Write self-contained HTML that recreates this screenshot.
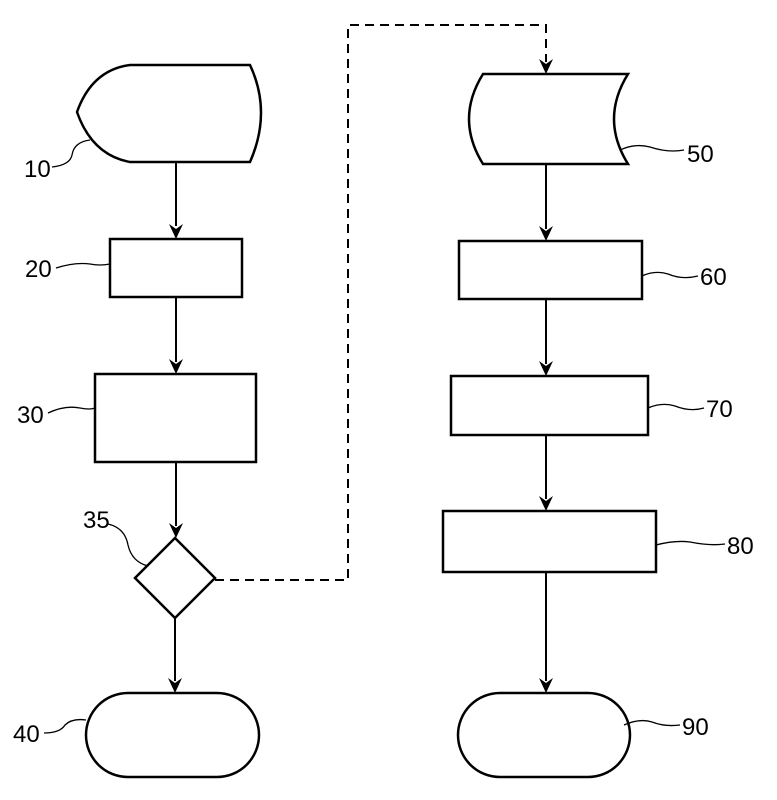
<!DOCTYPE html>
<html><head><meta charset="utf-8"><style>html,body{margin:0;padding:0;background:#fff}svg{display:block}</style></head><body>
<svg width="777" height="800" viewBox="0 0 777 800" xmlns="http://www.w3.org/2000/svg">
<defs><marker id="a" markerWidth="12" markerHeight="14" refX="6" refY="14" orient="auto" markerUnits="userSpaceOnUse"><path d="M0,0 L6,14 L12,0 L6,5 Z" fill="#000" transform="rotate(-90 6 7) translate(0 0)"/></marker></defs>
<g fill="none" stroke="#000" stroke-width="2.5">
<path d="M130,65 L250,65 Q272,112 250,162 L130,162 Q92,155 77,112 Q92,70 130,65 Z"/>
<rect x="110" y="239" width="132" height="58"/>
<rect x="95" y="374" width="161" height="88"/>
<path d="M175,538 L215,578 L175,618 L135,578 Z"/>
<rect x="86" y="693" width="173" height="84" rx="42"/>
<path d="M483,74 L628,74 Q600,119 628,164 L483,164 Q455,119 483,74 Z"/>
<rect x="459" y="241" width="183" height="58"/>
<rect x="451" y="376" width="197" height="59"/>
<rect x="443" y="511" width="213" height="61"/>
<rect x="458" y="693" width="172" height="84" rx="42"/>
</g>
<g stroke="#000" stroke-width="2">
<line x1="176" y1="162" x2="176" y2="226"/><line x1="176" y1="297" x2="176" y2="362"/>
<line x1="176" y1="462" x2="176" y2="526"/><line x1="175" y1="618" x2="175" y2="681"/>
<line x1="546" y1="164" x2="546" y2="229"/><line x1="546" y1="299" x2="546" y2="364"/>
<line x1="546" y1="435" x2="546" y2="499"/><line x1="546" y1="572" x2="546" y2="681"/>
</g>
<g fill="#000">
<path d="M169,224 L176,239 L183,224 L176,229Z"/><path d="M169,359 L176,374 L183,359 L176,364Z"/>
<path d="M169,523 L176,538 L183,523 L176,528Z"/><path d="M168,678 L175,693 L182,678 L175,683Z"/>
<path d="M539,226 L546,241 L553,226 L546,231Z"/><path d="M539,361 L546,376 L553,361 L546,366Z"/>
<path d="M539,496 L546,511 L553,496 L546,501Z"/><path d="M539,678 L546,693 L553,678 L546,683Z"/>
<path d="M539,59 L546,74 L553,59 L546,64Z"/>
</g>
<path d="M215,580 L348,580 L348,25 L546,25 L546,62" fill="none" stroke="#000" stroke-width="2" stroke-dasharray="9,6"/>
<g fill="none" stroke="#000" stroke-width="1.3">
<path d="M52,167 Q70,165 72,155 Q74,142 90,140"/>
<path d="M56,268 Q75,262 90,264 Q100,266 110,264"/>
<path d="M48,413 Q65,405 80,408 Q90,410 95,408"/>
<path d="M108,524 Q125,528 128,545 Q132,562 148,566"/>
<path d="M44,733 Q60,733 65,725 Q72,718 86,720"/>
<path d="M620,150 Q635,143 650,147 Q668,153 684,150"/>
<path d="M642,276 Q655,270 668,274 Q682,280 698,276"/>
<path d="M648,408 Q662,402 675,406 Q690,412 704,408"/>
<path d="M656,545 Q675,540 690,542 Q710,546 725,544"/>
<path d="M624,725 Q640,718 652,722 Q665,727 680,725"/>
</g>
<g font-family="Liberation Sans Narrow, Liberation Sans, sans-serif" font-size="24" fill="#000">
<text x="24" y="177">10</text><text x="25" y="277">20</text><text x="17" y="423">30</text>
<text x="83" y="528">35</text><text x="13" y="742">40</text><text x="687" y="162">50</text>
<text x="700" y="285">60</text><text x="706" y="417">70</text><text x="727" y="554">80</text>
<text x="682" y="735">90</text>
</g>
</svg>
</body></html>
